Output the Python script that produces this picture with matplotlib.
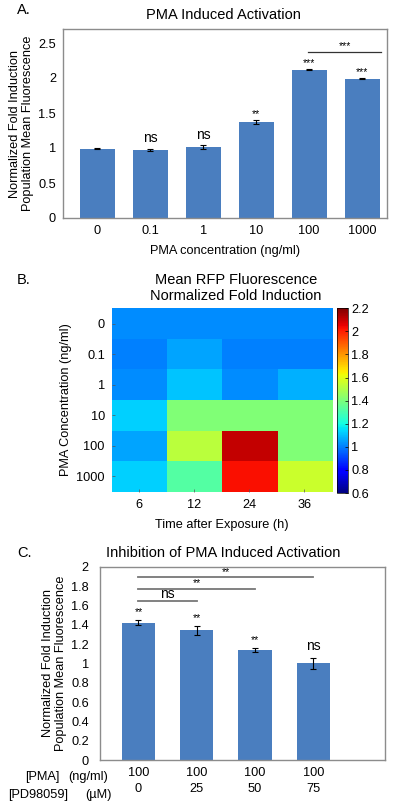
import matplotlib
matplotlib.use("Agg")
import matplotlib.pyplot as plt
import numpy as np

plt.rcParams['font.family'] = ['Liberation Sans', 'DejaVu Sans']

# ---------------- data ----------------
a_labels = ['0', '0.1', '1', '10', '100', '1000']
a_values = [0.99, 0.97, 1.01, 1.37, 2.12, 1.99]
a_errors = [0.01, 0.02, 0.03, 0.03, 0.01, 0.01]
a_marks = ['', 'ns', 'ns', '**', '***', '***']

b_times = ['6', '12', '24', '36']
b_conc = ['0', '0.1', '1', '10', '100', '1000']
b_values = [
    [1.02, 1.02, 1.02, 1.02],
    [1.00, 1.06, 1.00, 1.00],
    [1.02, 1.11, 1.02, 1.08],
    [1.13, 1.41, 1.41, 1.41],
    [1.06, 1.52, 2.10, 1.41],
    [1.13, 1.32, 2.03, 1.55],
]
b_cticks = [0.6, 0.8, 1.0, 1.2, 1.4, 1.6, 1.8, 2.0, 2.2]

c_pma = ['100', '100', '100', '100']
c_pd = ['0', '25', '50', '75']
c_values = [1.42, 1.34, 1.14, 1.00]
c_errors = [0.024, 0.047, 0.02, 0.06]
c_marks = ['**', '**', '**', 'ns']

bar_color = '#4a7ebf'
frame_color = '#8c8c8c'
FS = 9.2
TFS = 10.5

fig = plt.figure(figsize=(4, 8.05), dpi=100)

def fx(px):
    return px / 400.0

def fy(py):
    return 1 - py / 805.0

# ---------------- Panel A ----------------
axA = fig.add_axes([fx(63), fy(218), fx(324), fy(29) - fy(218)])
xa = np.arange(len(a_values))
axA.bar(xa, a_values, width=0.66, color=bar_color, zorder=2)
axA.errorbar(xa, a_values, yerr=a_errors, fmt='none', ecolor='black',
             elinewidth=0.8, capsize=2, capthick=0.8, zorder=3)
axA.set_xlim(-0.65, 5.47)
axA.set_ylim(0, 2.7)
axA.set_yticks([0, 0.5, 1, 1.5, 2, 2.5])
axA.set_yticklabels(['0', '0.5', '1', '1.5', '2', '2.5'])
axA.set_xticks(xa)
axA.set_xticklabels(a_labels)
axA.tick_params(length=0, labelsize=FS, pad=5)
for s in axA.spines.values():
    s.set_color(frame_color)
    s.set_linewidth(1.0)
for i, m in enumerate(a_marks):
    if not m:
        continue
    top = a_values[i] + a_errors[i]
    if m == 'ns':
        axA.text(xa[i], top + 0.05, m, ha='center', va='bottom', fontsize=10)
    else:
        axA.text(xa[i], top + 0.01, m, ha='center', va='bottom', fontsize=7.5)
axA.plot([3.98, 5.35], [2.37, 2.37], color='#333333', lw=0.9)
axA.text(4.67, 2.38, '***', ha='center', va='bottom', fontsize=7.5)
axA.set_xlabel('PMA concentration (ng/ml)', fontsize=FS, labelpad=6)
axA.set_ylabel('Normalized Fold Induction\nPopulation Mean Fluorescence',
               fontsize=FS, labelpad=3, linespacing=1.15)
fig.text(fx(223), fy(15), 'PMA Induced Activation', ha='center', va='center', fontsize=TFS)
fig.text(fx(17), fy(10), 'A.', ha='left', va='center', fontsize=TFS)

# ---------------- Panel B ----------------
axB = fig.add_axes([fx(111.7), fy(491.7), fx(220), fy(308.3) - fy(491.7)])
im = axB.imshow(np.array(b_values), cmap='jet', vmin=0.6, vmax=2.2,
                aspect='auto', interpolation='nearest')
axB.set_xticks(range(len(b_times)))
axB.set_xticklabels(b_times)
axB.set_yticks(range(len(b_conc)))
axB.set_yticklabels(b_conc)
axB.tick_params(direction='in', length=2, width=0.5, labelsize=FS, pad=5,
                color='#555555')
for s in axB.spines.values():
    s.set_visible(False)
axB.set_xlabel('Time after Exposure (h)', fontsize=FS, labelpad=6)
axB.set_ylabel('PMA Concentration (ng/ml)', fontsize=FS, labelpad=3)
cax = fig.add_axes([fx(336.7), fy(493), fx(11.6), fy(308.3) - fy(493)])
cb = fig.colorbar(im, cax=cax)
cb.set_ticks(b_cticks)
cb.set_ticklabels(['0.6', '0.8', '1', '1.2', '1.4', '1.6', '1.8', '2', '2.2'])
cb.ax.tick_params(direction='in', length=2, width=0.5, labelsize=FS, pad=2)
cb.outline.set_linewidth(0.5)
fig.text(fx(236), fy(288), 'Mean RFP Fluorescence\nNormalized Fold Induction',
         ha='center', va='center', fontsize=TFS, linespacing=1.1)
fig.text(fx(17), fy(280), 'B.', ha='left', va='center', fontsize=TFS)

# ---------------- Panel C ----------------
axC = fig.add_axes([fx(100), fy(760), fx(285), fy(566.7) - fy(760)])
xc = np.arange(len(c_values))
axC.bar(xc, c_values, width=0.57, color=bar_color, zorder=2)
axC.errorbar(xc, c_values, yerr=c_errors, fmt='none', ecolor='black',
             elinewidth=0.8, capsize=2, capthick=0.8, zorder=3)
axC.set_xlim(-0.66, 4.23)
axC.set_ylim(0, 2)
yt = [0, 0.2, 0.4, 0.6, 0.8, 1.0, 1.2, 1.4, 1.6, 1.8, 2.0]
axC.set_yticks(yt)
axC.set_yticklabels(['0', '0.2', '0.4', '0.6', '0.8', '1', '1.2', '1.4', '1.6', '1.8', '2'])
axC.set_xticks(xc)
axC.set_xticklabels([f'{p}\n{d}' for p, d in zip(c_pma, c_pd)], linespacing=1.45)
axC.tick_params(length=0, labelsize=FS)
axC.tick_params(axis='x', pad=5)
axC.tick_params(axis='y', pad=8)
for s in axC.spines.values():
    s.set_color(frame_color)
    s.set_linewidth(1.0)
for i, m in enumerate(c_marks):
    top = c_values[i] + c_errors[i]
    if m == 'ns':
        axC.text(xc[i], top + 0.05, m, ha='center', va='bottom', fontsize=10)
    else:
        axC.text(xc[i], top + 0.03, m, ha='center', va='bottom', fontsize=7.5)
sig_lines = [(0, 1, 1.64, 'ns'), (0, 2, 1.77, '**'), (0, 3, 1.89, '**')]
for x0, x1, yv, lab in sig_lines:
    axC.plot([xc[x0], xc[x1]], [yv, yv], color='#777777', lw=1.3)
    if lab == 'ns':
        axC.text((xc[x0] + xc[x1]) / 2, yv + 0.0, lab, ha='center', va='bottom', fontsize=10)
    else:
        axC.text((xc[x0] + xc[x1]) / 2, yv + 0.005, lab, ha='center', va='bottom', fontsize=7.5)
axC.set_ylabel('Normalized Fold Induction\nPopulation Mean Fluorescence',
               fontsize=FS, labelpad=3, linespacing=1.15)
fig.text(fx(25), fy(777), '[PMA]', ha='left', va='center', fontsize=FS)
fig.text(fx(68), fy(777), '(ng/ml)', ha='left', va='center', fontsize=FS)
fig.text(fx(8), fy(795), '[PD98059]', ha='left', va='center', fontsize=FS)
fig.text(fx(85), fy(795), '(\u00b5M)', ha='left', va='center', fontsize=FS)
fig.text(fx(223), fy(553), 'Inhibition of PMA Induced Activation', ha='center',
         va='center', fontsize=TFS)
fig.text(fx(17), fy(553), 'C.', ha='left', va='center', fontsize=TFS)

fig.savefig('out.png', dpi=100)
